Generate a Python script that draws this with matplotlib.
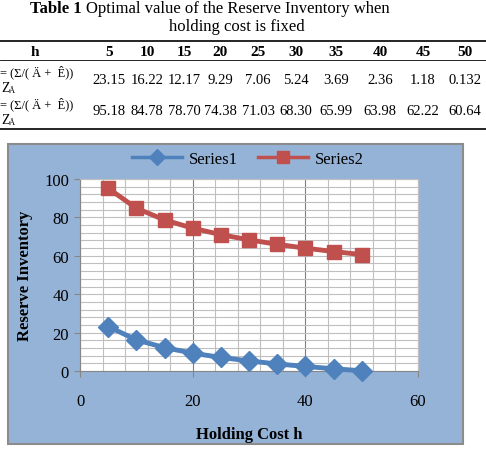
import numpy as np
import matplotlib.pyplot as plt
from matplotlib.patches import Rectangle
from matplotlib.lines import Line2D

# table / chart data
h_values = [5, 10, 15, 20, 25, 30, 35, 40, 45, 50]
series1 = [23.15, 16.22, 12.17, 9.29, 7.06, 5.24, 3.69, 2.36, 1.18, 0.132]
series2 = [95.18, 84.78, 78.70, 74.38, 71.03, 68.30, 65.99, 63.98, 62.22, 60.64]
series1_txt = ['23.15', '16.22', '12.17', '9.29', '7.06', '5.24', '3.69', '2.36', '1.18', '0.132']
series2_txt = ['95.18', '84.78', '78.70', '74.38', '71.03', '68.30', '65.99', '63.98', '62.22', '60.64']
col_x = [109, 147, 184, 220, 258, 296, 336, 380, 423, 465]

W, H = 486, 452
plt.rcParams['font.family'] = ['Liberation Serif', 'DejaVu Serif']
fig = plt.figure(figsize=(W / 100, H / 100), dpi=100)
fig.patch.set_facecolor('white')

# pixel helpers (y from top)
def fx(x):
    return x / W

def fy(y):
    return 1 - y / H

# --- caption ---
t1 = fig.text(fx(30), fy(13), 'Table 1', fontsize=12, fontweight='bold', va='baseline', ha='left')
fig.canvas.draw()
bb = t1.get_window_extent()
fig.text(bb.x1 / W + 0.008, fy(13), 'Optimal value of the Reserve Inventory when', fontsize=12,
         va='baseline', ha='left')
fig.text(fx(237), fy(31), 'holding cost is fixed', fontsize=12, va='baseline', ha='center')

# --- table ---
fig.add_artist(Line2D([0, 1], [fy(42), fy(42)], color='black', lw=1.2))
fig.add_artist(Line2D([0, 1], [fy(61), fy(61)], color='black', lw=0.6))
fig.add_artist(Line2D([0, 1], [fy(130), fy(130)], color='black', lw=1.2))

fig.text(fx(35), fy(52), 'h', fontsize=11, fontweight='bold', ha='center', va='center')
for x, h in zip(col_x, h_values):
    fig.text(fx(x), fy(52), str(h), fontsize=11, fontweight='bold', ha='center', va='center')

for yrow, txts in [(80, series1_txt), (112, series2_txt)]:
    fig.text(fx(0), fy(yrow - 8), '= (Σ/( Ä +  Ê))', fontsize=9, ha='left', va='center')
    fig.text(fx(1), fy(yrow + 9), 'Z', fontsize=10, ha='left', va='center')
    fig.text(fx(9), fy(yrow + 11), 'Ä', fontsize=6, ha='left', va='center')
    for x, t in zip(col_x, txts):
        fig.text(fx(x), fy(yrow), t, fontsize=10.5, ha='center', va='center')

# --- chart box ---
fig.add_artist(Rectangle((fx(8), fy(445)), fx(455), 300 / H, transform=fig.transFigure,
                         facecolor='#95B3D7', edgecolor='#8C8C8C', lw=1.5, zorder=0))

ax = fig.add_axes([fx(80), fy(372), fx(338), 192 / H])
ax.set_facecolor('white')
ax.set_xlim(0, 60)
ax.set_ylim(0, 100)
ax.set_xticks([0, 20, 40, 60])
ax.set_yticks([0, 20, 40, 60, 80, 100])
ax.set_xticks(np.arange(0, 61, 4), minor=True)
ax.set_yticks(np.arange(0, 101, 4), minor=True)
ax.grid(which='minor', color='#BFBFBF', lw=0.8)
ax.grid(which='major', axis='x', color='#7F7F7F', lw=0.8)
ax.grid(which='major', axis='y', color='#BFBFBF', lw=0.8)
ax.set_axisbelow(True)
for side in ['top', 'right']:
    ax.spines[side].set_color('#BFBFBF')
for side in ['left', 'bottom']:
    ax.spines[side].set_color('#868686')
ax.tick_params(which='minor', length=0)
ax.tick_params(which='major', length=4, color='#868686', labelsize=12, pad=4)
ax.tick_params(axis='x', pad=12)

ax.plot(h_values, series1, color='#4F81BD', lw=3.5, marker='D', markersize=10.5,
        label='Series1', clip_on=False, zorder=3)
ax.plot(h_values, series2, color='#C0504D', lw=3.5, marker='s', markersize=10.5,
        label='Series2', clip_on=False, zorder=3)

ax.set_xlabel('Holding Cost h', fontsize=12, fontweight='bold', labelpad=12)
ax.set_ylabel('Reserve Inventory', fontsize=12, fontweight='bold', labelpad=8)

leg = fig.legend(handles=ax.get_lines(), labels=['Series1', 'Series2'], ncol=2,
                 loc='center', bbox_to_anchor=(fx(248), fy(160)), frameon=False,
                 fontsize=12, handlelength=3, columnspacing=1.2, handletextpad=0.4)
for lh in leg.legend_handles:
    lh.set_markersize(8)
    lh.set_linewidth(2.5)

fig.savefig('out.png', dpi=100)
